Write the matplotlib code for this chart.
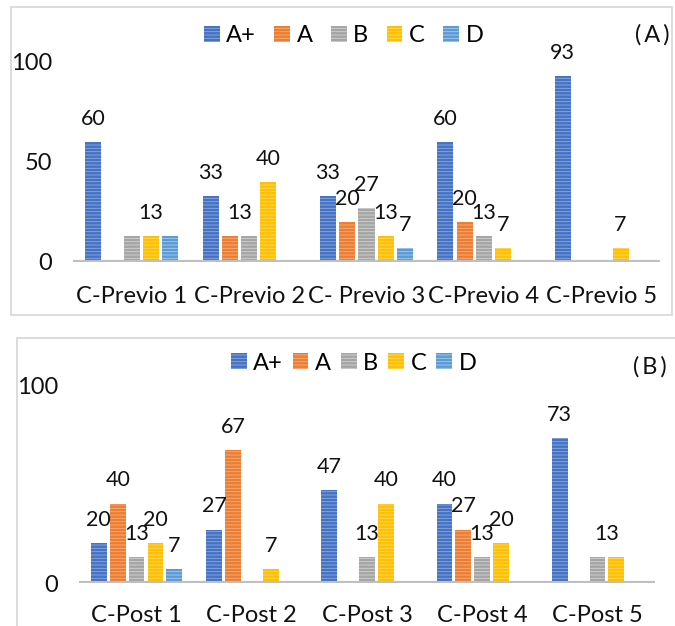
import numpy as np
import matplotlib
matplotlib.use("Agg")
import matplotlib.pyplot as plt
from matplotlib.patches import Rectangle

plt.rcParams['font.family'] = ['Lato', 'DejaVu Sans']
plt.rcParams['hatch.linewidth'] = 0.6

# ---- data -------------------------------------------------------------
grades = ["A+", "A", "B", "C", "D"]

pre_groups = ["C-Previo 1", "C-Previo 2", "C- Previo 3", "C-Previo 4", "C-Previo 5"]
pre_aplus = [60, 33, 33, 60, 93]
pre_a = [0, 13, 20, 20, 0]
pre_b = [13, 13, 27, 13, 0]
pre_c = [13, 40, 13, 7, 7]
pre_d = [13, 0, 7, 0, 0]

post_groups = ["C-Post 1", "C-Post 2", "C-Post 3", "C-Post 4", "C-Post 5"]
post_aplus = [20, 27, 47, 40, 73]
post_a = [40, 67, 0, 27, 0]
post_b = [13, 0, 13, 13, 13]
post_c = [20, 7, 40, 20, 13]
post_d = [7, 0, 0, 0, 0]

pre_ticks = [0, 50, 100]
post_ticks = [0, 100]

# ---- style ------------------------------------------------------------
fills = ["#4472C4", "#ED7D31", "#A5A5A5", "#FFC000", "#5B9BD5"]
stripes = ["#8FAADC", "#F4B183", "#D3D3D3", "#FFD966", "#A9CBEA"]
TEXT = "#111111"
FS = 17        # axis / legend text
FS_VAL = 15.5  # value labels

W, H = 675, 626
fig = plt.figure(figsize=(W / 100, H / 100), dpi=100)


def px_rect(x0, y0, x1, y1):
    """Pixel box (origin top-left) -> figure rect [left, bottom, width, height]."""
    return [x0 / W, 1 - y1 / H, (x1 - x0) / W, (y1 - y0) / H]


def frame(x0, y0, x1, y1):
    l, b, w, h = px_rect(x0, y0, x1, y1)
    fig.patches.append(Rectangle((l, b), w, h, transform=fig.transFigure,
                                 fill=False, edgecolor="#D9D9D9", lw=1.3))


def draw_panel(rect, groups, series, yticks, xpad, tag, tag_xy,
               legend_xy, colspacing):
    ax = fig.add_axes(rect)
    n = len(groups)
    x = np.arange(n)
    step, width = 0.164, 0.137
    handles = []
    for k, vals in enumerate(series):
        bc = ax.bar(x + (k - 2) * step, vals, width, color=fills[k],
                    edgecolor=stripes[k], linewidth=0, hatch="-----",
                    label=grades[k], zorder=2)
        handles.append(bc)

    # value labels: equal neighbouring values share one centred label
    for g in range(n):
        vals = [s[g] for s in series]
        k = 0
        while k < len(vals):
            j = k
            while j + 1 < len(vals) and vals[j + 1] == vals[k]:
                j += 1
            if vals[k] > 0:
                xc = g + ((k + j) / 2 - 2) * step
                ax.annotate(str(vals[k]), (xc, vals[k]), xytext=(0, 12.5),
                            textcoords="offset points", ha="center",
                            va="baseline", fontsize=FS_VAL, color=TEXT)
            k = j + 1

    ax.axhline(0, color="#BFBFBF", lw=3, zorder=3, solid_capstyle="butt")
    ax.set_xlim(-0.5, n - 0.5)
    ax.set_ylim(0, 100)
    ax.set_xticks(x)
    ax.set_xticklabels(groups, fontsize=FS, color=TEXT)
    ax.set_yticks(yticks)
    ax.set_yticklabels([str(t) for t in yticks], fontsize=FS, color=TEXT)
    ax.tick_params(axis="x", length=0, pad=xpad)
    ax.tick_params(axis="y", length=0, pad=15)
    for sp in ax.spines.values():
        sp.set_visible(False)
    ax.patch.set_visible(False)

    fig.legend(handles=handles, labels=grades, loc="center left",
               bbox_to_anchor=(legend_xy[0] / W, 1 - legend_xy[1] / H),
               ncol=5, frameon=False, fontsize=FS, handlelength=0.66,
               handleheight=0.66, handletextpad=0.28, columnspacing=colspacing,
               borderpad=0, borderaxespad=0)
    fig.text(tag_xy[0] / W, 1 - tag_xy[1] / H, tag, ha="center", va="center",
             fontsize=FS, color=TEXT)
    return ax


# panel (A): before
frame(11, 7, 672, 315)
draw_panel(px_rect(73, 62, 660, 262), pre_groups,
           [pre_aplus, pre_a, pre_b, pre_c, pre_d], pre_ticks, 17.5,
           "(\u2009A\u2009)", (652, 35), (204, 36), 0.78)

# panel (B): after
frame(17, 338, W + 6, H + 6)
draw_panel(px_rect(79, 385, 655, 583), post_groups,
           [post_aplus, post_a, post_b, post_c, post_d], post_ticks, 15.5,
           "(\u2009B\u2009)", (650, 367), (231, 363), 0.42)

fig.savefig("out.png", dpi=100)
